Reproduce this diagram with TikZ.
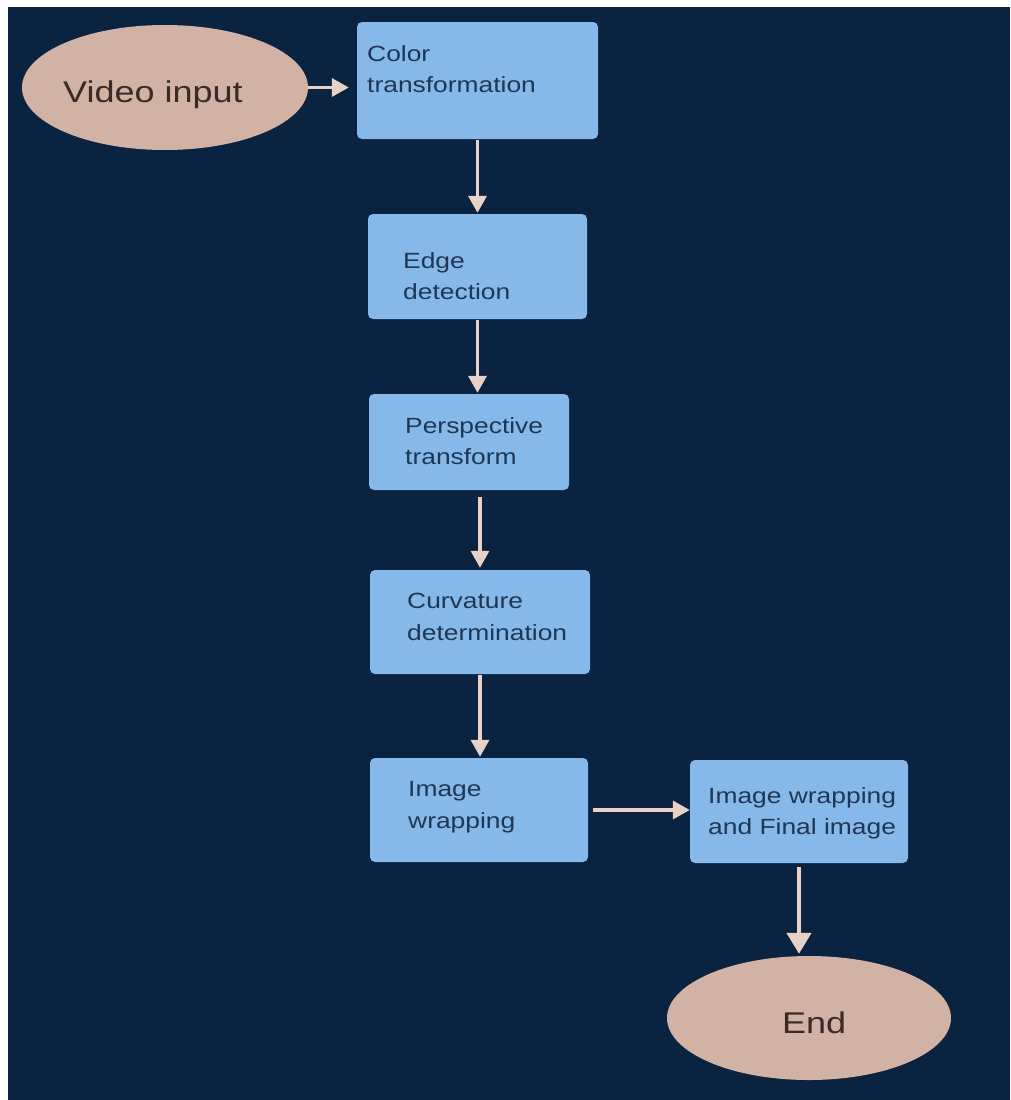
\documentclass[tikz,border=0pt]{standalone}
\usepackage{fontspec}
\setmainfont{Liberation Sans}
\newfontfamily\labelfont[FakeStretch=1.2]{Liberation Sans}
\usetikzlibrary{shapes.geometric,arrows.meta}

\definecolor{bgnavy}{HTML}{0A2340}
\definecolor{boxblue}{HTML}{86B9EA}
\definecolor{termfill}{HTML}{D2B2A5}
\definecolor{boxtext}{HTML}{1F3654}
\definecolor{termtext}{HTML}{3A2B27}
\definecolor{flow}{HTML}{E8D2C8}

\begin{document}
\begin{tikzpicture}[x=1pt,y=-1pt,
  stepbox/.style={fill=boxblue, rounded corners=5pt, inner sep=0pt},
  terminal/.style={ellipse, fill=termfill, inner sep=0pt},
  boxlabel/.style={anchor=north west, inner sep=0pt, align=left, text=boxtext,
    font=\labelfont\fontsize{22}{31.5}\selectfont},
  termlabel/.style={anchor=base west, inner sep=0pt, text=termtext,
    font=\labelfont\fontsize{30}{36}\selectfont},
  flowline/.style={draw=flow, line width=3.5pt, -{Triangle[width=18pt,length=17pt]}},
  flowbold/.style={draw=flow, line width=4.5pt, -{Triangle[width=24pt,length=21pt]}}
]
% page and dark backdrop
\useasboundingbox (0,0) rectangle (1010,1100);
\fill[white] (0,0) rectangle (1010,1100);
\fill[bgnavy] (8,7) rectangle (1010,1100);

% start and end terminals
\node[terminal, minimum width=286pt, minimum height=125pt] (e1) at (165,87.5) {};
\node[terminal, minimum width=284pt, minimum height=124pt] (e2) at (809,1018) {};
\node[termlabel] (tv) at (63,102) {Video input};
\node[termlabel] (te) at (782,1033) {End};

% processing steps
\node[stepbox, minimum width=241pt, minimum height=117pt] (b1) at (477.5,80.5) {};
\node[stepbox, minimum width=219pt, minimum height=105pt] (b2) at (477.5,266.5) {};
\node[stepbox, minimum width=200pt, minimum height=96pt]  (b3) at (469,442) {};
\node[stepbox, minimum width=220pt, minimum height=104pt] (b4) at (480,622) {};
\node[stepbox, minimum width=218pt, minimum height=104pt] (b5) at (479,810) {};
\node[stepbox, minimum width=218pt, minimum height=103pt] (b6) at (799,811.5) {};

\node[boxlabel] (t1) at (367,45.2)  {Color\\transformation};
\node[boxlabel] (t2) at (403,252.2) {Edge\\detection};
\node[boxlabel] (t3) at (405,417.2) {Perspective\\transform};
\node[boxlabel] (t4) at (407,593.2) {Curvature\\determination};
\node[boxlabel] (t5) at (408,781.2) {Image\\wrapping};
\node[boxlabel] (t6) at (708,787.2) {Image wrapping\\and Final image};

% connectors
\draw[flowline, shorten >=8pt] (e1.east) -- (e1.east -| b1.west);
\draw[flowline, shorten <=1pt, shorten >=1pt] (b1.south) -- (b1.south |- b2.north);
\draw[flowline, shorten <=1pt, shorten >=1pt] (b2.south) -- (b2.south |- b3.north);
\draw[flowline, shorten <=7pt, shorten >=2pt] (b4.north |- b3.south) -- (b4.north);
\draw[flowline, shorten <=1pt, shorten >=1pt] (b4.south) -- (b4.south |- b5.north);
\draw[flowline, shorten <=5pt] (b5.east) -- (b5.east -| b6.west);
\draw[flowbold, shorten <=4pt, shorten >=2pt] (b6.south) -- (b6.south |- e2.north);
\end{tikzpicture}
\end{document}
